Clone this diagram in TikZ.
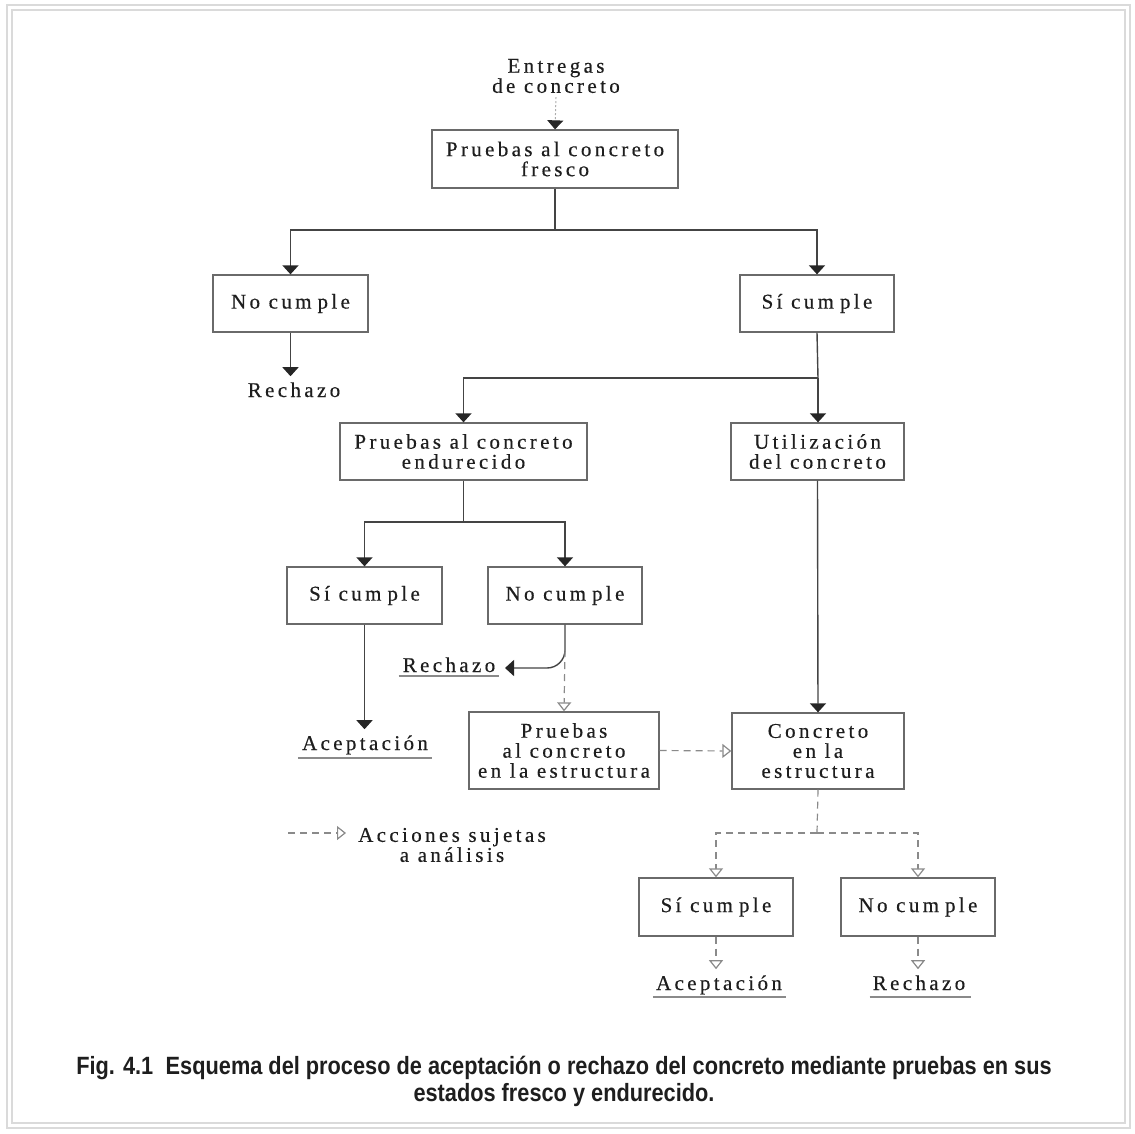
\documentclass[tikz,border=0pt]{standalone}
\usepackage{fontspec}
\setmainfont{Liberation Serif}
\newfontfamily\tnr[LetterSpace=16,FakeBold=0.4]{Liberation Serif}
\newfontfamily\capfont[FakeStretch=0.87]{Liberation Sans}
\usetikzlibrary{arrows.meta}
\definecolor{boxgray}{HTML}{6A6A6A}
\definecolor{linecol}{HTML}{444444}
\definecolor{dashcol}{HTML}{8A8A8A}
\definecolor{txtcol}{HTML}{1E1E1E}
\definecolor{framecol}{HTML}{DADADA}
\newcommand{\cumple}{cum\kern6pt ple}
\begin{document}
\begin{tikzpicture}[x=1pt,y=-1pt,
  txt/.style={font=\tnr\fontsize{21}{20}\selectfont, align=center, text=txtcol, inner sep=0pt},
  lbl/.style={txt, anchor=base},
  box/.style={txt, draw=boxgray, line width=1.3pt},
  conn/.style={draw=linecol, line width=1.4pt},
  farrow/.style={conn, -{Triangle[width=16pt,length=9pt,color=black!85]}},
  dconn/.style={draw=dashcol, line width=1.2pt, dash pattern=on 7pt off 5pt},
  darrow/.style={dconn, -{Triangle[open,width=14pt,length=9pt,fill=white,color=dashcol]}},
  uline/.style={draw=dashcol, line width=1.3pt},
  framebox/.style={draw=framecol, line width=1.2pt}
]
\useasboundingbox (0,0) rectangle (1135,1133);
\draw[framebox] (7,5) rectangle (1130,1128);
\draw[framebox] (12,10) rectangle (1125,1123);

% nodes
\node[txt, font=\tnr\fontsize{21}{18}\selectfont] (entregas) at (556,76) {Entregas\\de concreto};
\node[box, minimum width=246pt, minimum height=58pt] (fresco) at (555,159) {Pruebas al concreto\\fresco};
\node[box, minimum width=155pt, minimum height=57pt] (nc1) at (290.5,303.5) {No \cumple};
\node[box, minimum width=154pt, minimum height=57pt] (sc1) at (817,303.5) {Sí \cumple};
\node[lbl] (rech1) at (294,397) {Rechazo};
\node[box, minimum width=247pt, minimum height=57pt] (endur) at (463.5,451.5) {Pruebas al concreto\\endurecido};
\node[box, minimum width=173pt, minimum height=57pt] (util) at (817.5,451.5) {Utilización\\del concreto};
\node[box, minimum width=155pt, minimum height=57pt] (sc2) at (364.5,595.5) {Sí \cumple};
\node[box, minimum width=154pt, minimum height=57pt] (nc2) at (565,595.5) {No \cumple};
\node[lbl] (rech2) at (449,672) {Rechazo};
\node[lbl] (acep1) at (365,750) {Aceptación};
\node[box, minimum width=190pt, minimum height=77pt] (pest) at (564,750.5) {Pruebas\\al concreto\\en la estructura};
\node[box, minimum width=172pt, minimum height=76pt] (conc) at (818,751) {Concreto\\en la\\estructura};
\node[txt] (leg) at (452,845) {Acciones sujetas\\a análisis};
\node[box, minimum width=154pt, minimum height=58pt] (sc3) at (716,907) {Sí \cumple};
\node[box, minimum width=154pt, minimum height=58pt] (nc3) at (918,907) {No \cumple};
\node[lbl] (acep2) at (719,990) {Aceptación};
\node[lbl] (rech3) at (919,990) {Rechazo};
\node[font=\capfont\bfseries\fontsize{25}{27}\selectfont, align=center, text=txtcol, inner sep=0pt] (cap) at (564,1081)
  {Fig. 4.1\enspace Esquema del proceso de aceptación o rechazo del concreto mediante pruebas en sus\\estados fresco y endurecido.};

% coordinates
\coordinate (j1) at (555,230);
\coordinate (j2) at (818,378);
\coordinate (j3) at (463.5,522);
\coordinate (j4) at (817,833);
\coordinate (r2tip) at (505,668);
\coordinate (d1) at (565,650);
\coordinate (l1) at (288,833);
\coordinate (l2) at (346,833);

% underlines
\draw[uline] ([xshift=-4pt,yshift=-4pt]rech2.base west) -- ([xshift=4pt,yshift=-4pt]rech2.base east);
\draw[uline] ([xshift=-4pt,yshift=-8pt]acep1.base west) -- ([xshift=4pt,yshift=-8pt]acep1.base east);
\draw[uline] ([xshift=-3pt,yshift=-7pt]acep2.base west) -- ([xshift=4pt,yshift=-7pt]acep2.base east);
\draw[uline] ([xshift=-3pt,yshift=-7pt]rech3.base west) -- ([xshift=6pt,yshift=-7pt]rech3.base east);

% connectors
\draw[draw=dashcol!70, line width=1pt, dash pattern=on 2pt off 2pt, -{Triangle[width=16pt,length=9pt,color=black!85]}] ([yshift=-4pt]entregas.south) -- (fresco.north);
\draw[conn] (fresco.south) -- (j1);
\draw[farrow] (j1) -| (nc1.north);
\draw[farrow] (j1) -| (sc1.north);
\draw[farrow] (nc1.south) -- ([yshift=6pt]rech1.north -| nc1.south);
\draw[conn] (sc1.south) -- (j2);
\draw[farrow] (j2) -| (endur.north);
\draw[farrow] (j2) -- (util.north -| j2);
\draw[conn] (endur.south) -- (j3);
\draw[farrow] (j3) -| (sc2.north);
\draw[farrow] (j3) -| (nc2.north);
\draw[farrow] (sc2.south) -- ([yshift=6pt]acep1.north -| sc2.south);
\draw[farrow, rounded corners=18pt] (nc2.south) |- (r2tip);
\draw[darrow] (d1) -- (pest.north);
\draw[darrow] (pest.east) -- (conc.west);
\draw[farrow] (util.south) -- (conc.north);
\draw[dconn] (conc.south) -- (j4);
\draw[darrow] (j4) -| (sc3.north);
\draw[darrow] (j4) -| (nc3.north);
\draw[darrow] (sc3.south) -- ([yshift=6pt]acep2.north -| sc3.south);
\draw[darrow] (nc3.south) -- ([yshift=6pt]rech3.north -| nc3.south);
\draw[darrow] (l1) -- (l2);
\end{tikzpicture}
\end{document}
